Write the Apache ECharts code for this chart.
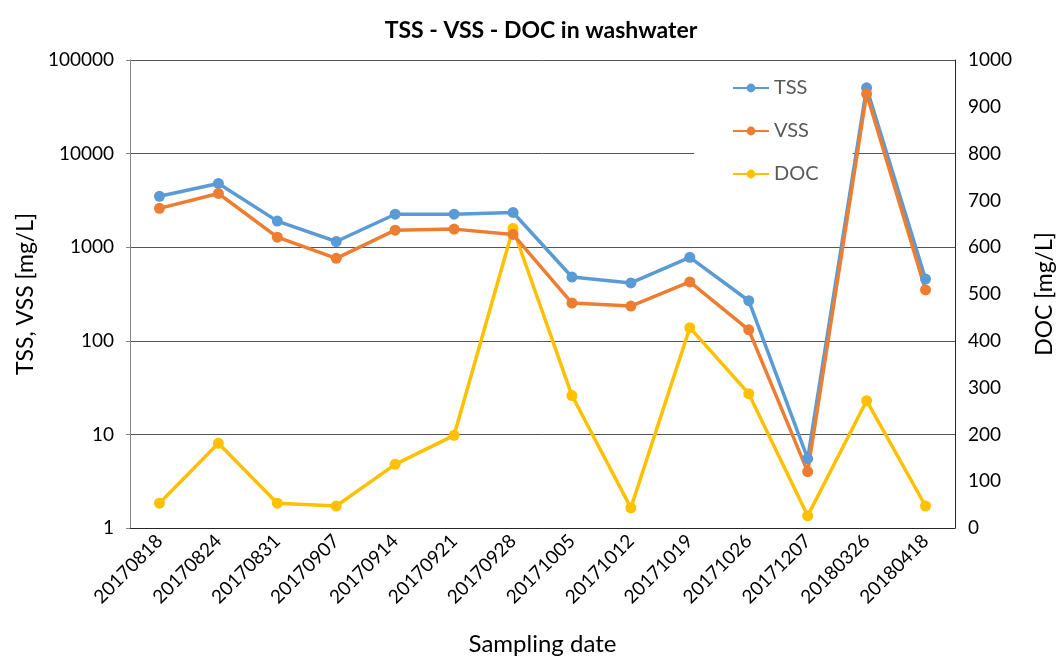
<!DOCTYPE html>
<html>
<head>
<meta charset="utf-8">
<script src="https://cdn.jsdelivr.net/npm/echarts@6/dist/echarts.min.js"></script>
<style>
  html, body { margin: 0; padding: 0; background: #fff; }
  #main { width: 1056px; height: 657px; }
</style>
</head>
<body>
<div id="main"></div>
<script>
var dates = ['20170818', '20170824', '20170831', '20170907', '20170914', '20170921', '20170928',
  '20171005', '20171012', '20171019', '20171026', '20171207', '20180326', '20180418'];
var tss = [3500, 4800, 1900, 1150, 2250, 2250, 2350, 480, 415, 780, 268, 5.5, 50500, 457];
var vss = [2600, 3750, 1280, 760, 1520, 1560, 1370, 253, 235, 425, 131, 4.0, 43500, 350];
var doc = [53, 181, 53, 47, 136, 198, 640, 283, 43, 428, 287, 26, 272, 47];

var chart = echarts.init(document.getElementById('main'));
var font = 'Lato, "Open Sans", sans-serif';

function lineSeries(name, data, color, axis) {
  return {
    name: name,
    type: 'line',
    yAxisIndex: axis,
    data: data,
    symbol: 'circle',
    symbolSize: 11,
    lineStyle: { width: 3.5, color: color },
    itemStyle: { color: color },
    z: axis == 1 ? 3 : 4
  };
}

chart.setOption({
  animation: false,
  title: {
    text: 'TSS - VSS - DOC in washwater',
    left: 536,
    textAlign: 'center',
    top: 14,
    textStyle: { fontFamily: font, fontSize: 23, fontWeight: 'bold', color: '#000' }
  },
  legend: {
    orient: 'vertical',
    left: 694,
    top: 70,
    itemGap: 23,
    itemWidth: 36,
    itemHeight: 11,
    backgroundColor: '#fff',
    padding: [8, 34, 8, 38],
    textStyle: { fontFamily: font, fontSize: 20, color: '#595959' },
    data: ['TSS', 'VSS', 'DOC']
  },
  grid: { left: 130, right: 101, top: 60, bottom: 129, containLabel: false, outerBoundsMode: 'none' },
  xAxis: {
    type: 'category',
    data: dates,
    name: 'Sampling date',
    nameLocation: 'middle',
    nameGap: 104,
    nameTextStyle: { fontFamily: font, fontSize: 24, color: '#000' },
    axisLine: { lineStyle: { color: '#262626', width: 1 } },
    axisTick: { length: 7, lineStyle: { color: '#595959' } },
    axisLabel: { rotate: 45, fontFamily: font, fontSize: 19, color: '#000', margin: 10 }
  },
  yAxis: [{
    type: 'log',
    logBase: 10,
    min: 1,
    max: 100000,
    name: 'TSS, VSS [mg/L]',
    nameLocation: 'middle',
    nameGap: 88,
    nameTextStyle: { fontFamily: font, fontSize: 23, color: '#000' },
    axisLine: { show: true, lineStyle: { color: '#868686' } },
    axisTick: { show: true, inside: false, length: 4, lineStyle: { color: '#868686' } },
    axisLabel: { fontFamily: font, fontSize: 19, color: '#000', margin: 16, formatter: function (v) { return String(v); } },
    splitLine: { show: true, lineStyle: { color: '#555', width: 1 } },
    minorTick: { show: false }
  }, {
    type: 'value',
    min: 0,
    max: 1000,
    interval: 100,
    name: 'DOC [mg/L]',
    nameLocation: 'middle',
    nameGap: 78,
    nameRotate: 90,
    nameTextStyle: { fontFamily: font, fontSize: 23, color: '#000' },
    axisLine: { show: true, lineStyle: { color: '#262626' } },
    axisTick: { show: false },
    axisLabel: { fontFamily: font, fontSize: 19, color: '#000', margin: 13, formatter: function (v) { return String(v); } },
    splitLine: { show: false }
  }],
  series: [
    lineSeries('TSS', tss, '#5B9BD5', 0),
    lineSeries('VSS', vss, '#ED7D31', 0),
    lineSeries('DOC', doc, '#FFC000', 1)
  ]
});
</script>
</body>
</html>
